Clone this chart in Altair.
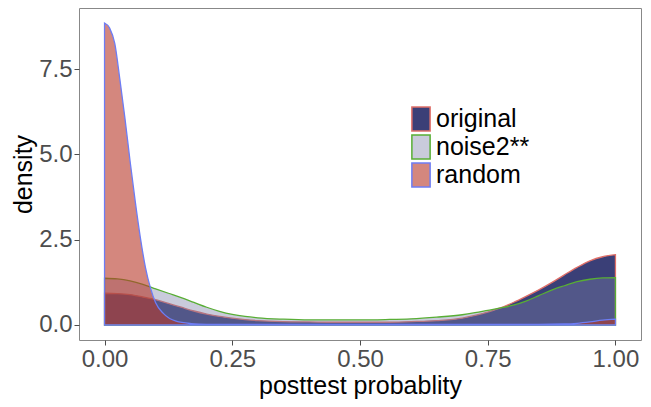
import altair as alt
import pandas as pd

series_names = ["original", "noise2**", "random"]
fill_colors = ["#252A68", "#787DA5", "#B73728"]
fill_opacities = [0.9, 0.4, 0.6]
stroke_colors = ["#E07069", "#58AE34", "#6D7DF5"]
legend_fill_colors = ["#3B3F77", "#C9CBDB", "#D4877E"]

grid_x = [0, 0.025, 0.05, 0.075, 0.1, 0.125, 0.15, 0.175, 0.2, 0.225, 0.25, 0.275,
          0.3, 0.35, 0.4, 0.45, 0.5, 0.55, 0.6, 0.65, 0.7, 0.725, 0.75, 0.775, 0.8,
          0.825, 0.85, 0.875, 0.9, 0.925, 0.95, 0.975, 1.0]
original_y = [0.93, 0.92, 0.89, 0.82, 0.74, 0.63, 0.52, 0.41, 0.32, 0.25, 0.20, 0.16,
              0.13, 0.10, 0.09, 0.08, 0.08, 0.08, 0.10, 0.13, 0.20, 0.28, 0.38, 0.50, 0.66,
              0.84, 1.03, 1.24, 1.47, 1.69, 1.88, 2.00, 2.06]
noise_y = [1.37, 1.35, 1.29, 1.19, 1.06, 0.93, 0.80, 0.66, 0.52, 0.40, 0.31, 0.25,
           0.21, 0.17, 0.15, 0.15, 0.15, 0.16, 0.18, 0.23, 0.30, 0.36, 0.43, 0.50, 0.58,
           0.70, 0.86, 1.02, 1.15, 1.27, 1.34, 1.38, 1.39]
random_x = [0, 0.01, 0.02, 0.03, 0.04, 0.05, 0.06, 0.07, 0.08, 0.09, 0.1, 0.115, 0.14,
            0.17, 0.2, 0.3, 0.4, 0.5, 0.6, 0.7, 0.8, 0.85, 0.9, 0.925, 0.95, 0.975, 1.0]
random_y = [8.85, 8.7, 8.25, 7.2, 6.05, 4.8, 3.63, 2.57, 1.69, 1.08, 0.65, 0.34, 0.11,
            0.04, 0.02, 0.02, 0.02, 0.02, 0.02, 0.02, 0.02, 0.02, 0.03, 0.05, 0.09, 0.14, 0.17]

x_ticks = [0, 0.25, 0.5, 0.75, 1.0]
y_ticks = [0, 2.5, 5.0, 7.5]

frames = [
    pd.DataFrame({"x": grid_x, "y": original_y}),
    pd.DataFrame({"x": grid_x, "y": noise_y}),
    pd.DataFrame({"x": random_x, "y": random_y}),
]

FONT = "Liberation Sans"

x_enc = alt.X("x:Q", scale=alt.Scale(domain=[-0.05, 1.05], nice=False, zero=False),
              axis=alt.Axis(values=x_ticks, format=".2f", title="posttest probablity",
                            titlePadding=2))
y_enc = alt.Y("y:Q", scale=alt.Scale(domain=[-0.44, 9.29], nice=False, zero=False),
              axis=alt.Axis(values=y_ticks, format=".1f", title="density",
                            titlePadding=2))

layers = []
for i, df in enumerate(frames):
    layers.append(
        alt.Chart(df).mark_area(
            interpolate="monotone", strokeWidth=1.3, opacity=1,
            fill=fill_colors[i], fillOpacity=fill_opacities[i], stroke=stroke_colors[i],
        ).encode(x=x_enc, y=y_enc, y2=alt.datum(0))
    )

legend = alt.Legend(title=None, orient="none", legendX=329, legendY=98,
                    symbolType="M-0.76,-1H0.76V1H-0.76Z", symbolSize=576,
                    symbolStrokeWidth=1.5, symbolOpacity=1, labelFontSize=25,
                    labelFont=FONT, labelColor="black", rowPadding=-14, labelOffset=2)

legend_df = pd.DataFrame({"series": series_names, "x": [-1.0] * 3, "y": [0.0] * 3})
legend_layer = alt.Chart(legend_df).mark_point(
    filled=True, opacity=1, clip=True, strokeWidth=1.5,
    shape="M-0.76,-1H0.76V1H-0.76Z", size=576,
).encode(
    x="x:Q", y="y:Q",
    fill=alt.Fill("series:N", scale=alt.Scale(domain=series_names, range=legend_fill_colors),
                  legend=legend),
    stroke=alt.Stroke("series:N", scale=alt.Scale(domain=series_names, range=stroke_colors),
                      legend=legend),
)

chart = alt.layer(*layers, legend_layer).properties(
    width=562, height=332,
    autosize=alt.AutoSizeParams(type="none"),
    padding={"left": 71, "top": 0, "right": 2, "bottom": 60},
).configure_view(
    stroke="#888888", strokeWidth=1
).configure_axis(
    grid=False, domain=False, tickColor="#4D4D4D", tickSize=5, tickWidth=1,
    labelColor="#4D4D4D", labelFont=FONT, labelFontSize=24, labelPadding=2,
    titleFont=FONT, titleFontSize=25, titleColor="black", titleFontWeight="normal",
)

chart.save("out.html", embed_options={"renderer": "svg", "actions": False})
